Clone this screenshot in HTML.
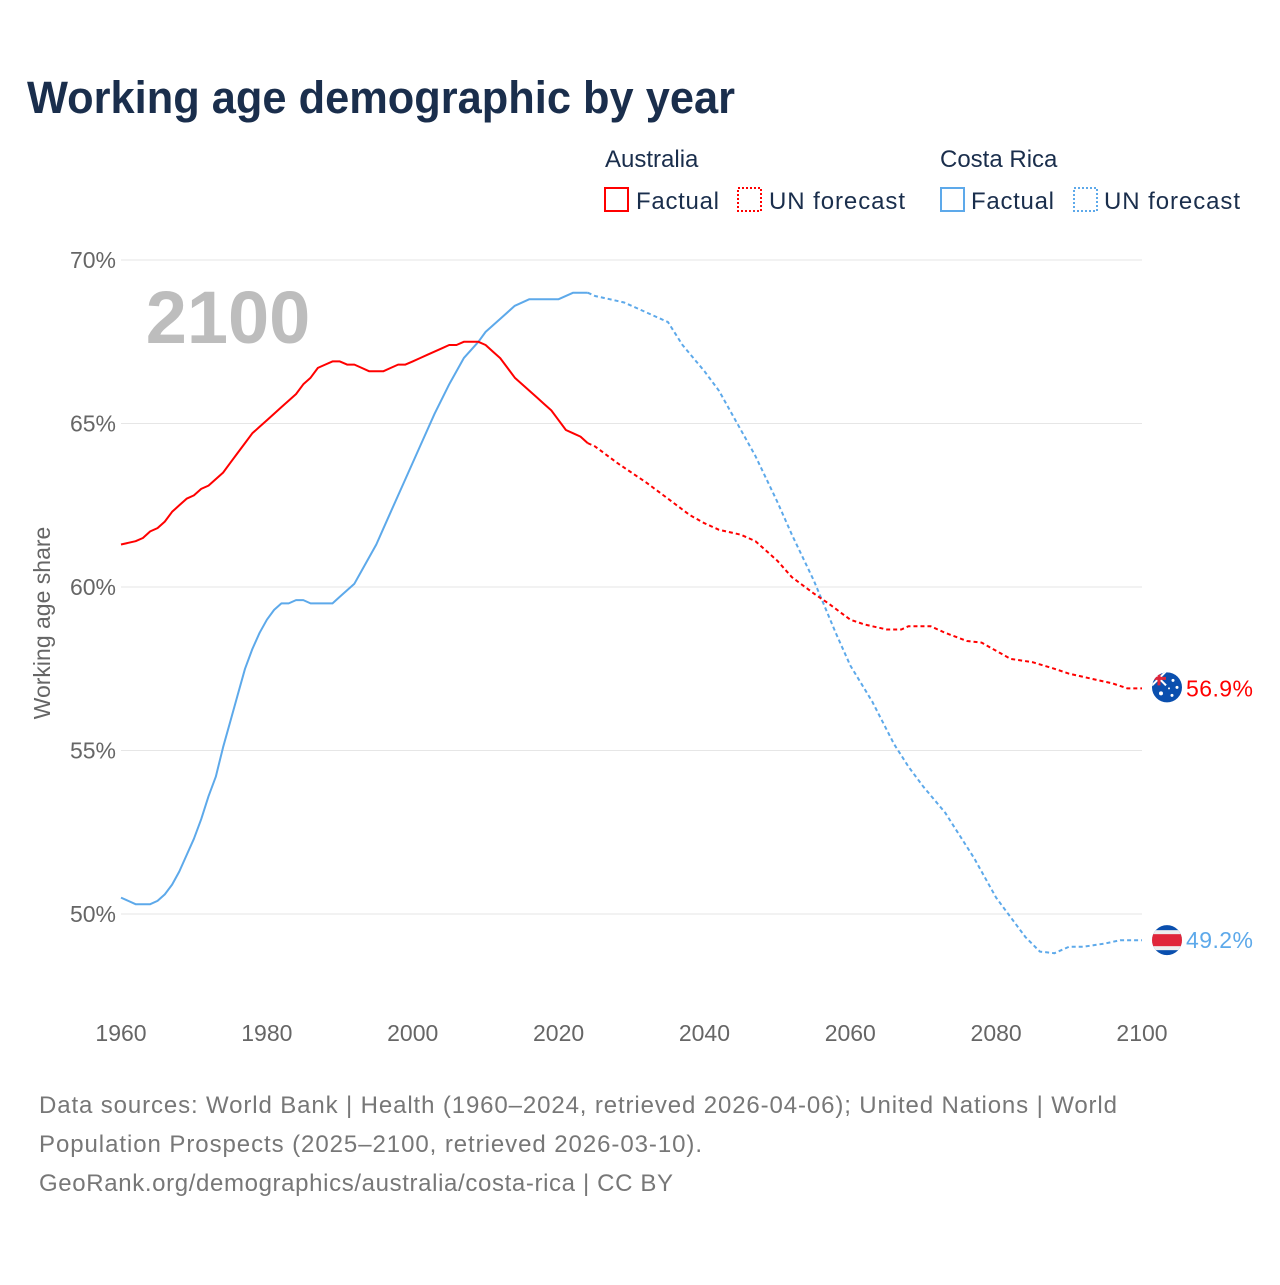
<!DOCTYPE html>
<html><head><meta charset="utf-8">
<style>
body{margin:0;background:#fff;font-family:"Liberation Sans",sans-serif;}
svg text{font-family:"Liberation Sans",sans-serif;}
</style></head>
<body>
<svg id="chart" width="1280" height="1280" viewBox="0 0 1280 1280">
<rect width="1280" height="1280" fill="#fff"/>
<text x="27" y="113" font-size="45" font-weight="bold" fill="#1a2e4c" textLength="708" lengthAdjust="spacingAndGlyphs">Working age demographic by year</text>
<g>
<text x="605" y="167" font-size="24" fill="#1a2e4c">Australia</text>
<text x="940" y="167" font-size="24" fill="#1a2e4c">Costa Rica</text>
<g><rect x="605" y="188" width="23" height="23" fill="none" stroke="#f00" stroke-width="2"/><text x="636" y="209" font-size="24" fill="#1a2e4c" textLength="83">Factual</text></g>
<g><rect x="738" y="188" width="23" height="23" fill="none" stroke="#f00" stroke-width="2" stroke-dasharray="2,2"/><text x="769" y="209" font-size="24" fill="#1a2e4c" textLength="136">UN forecast</text></g>
<g><rect x="941" y="188" width="23" height="23" fill="none" stroke="#5da9ea" stroke-width="2"/><text x="971" y="209" font-size="24" fill="#1a2e4c" textLength="83">Factual</text></g>
<g><rect x="1074" y="188" width="23" height="23" fill="none" stroke="#5da9ea" stroke-width="2" stroke-dasharray="2,2"/><text x="1104" y="209" font-size="24" fill="#1a2e4c" textLength="136">UN forecast</text></g>
</g>
<g id="grid"></g>
<text x="228" y="343" font-size="74" font-weight="bold" fill="#bdbdbd" text-anchor="middle">2100</text>
<text transform="translate(50,623) rotate(-90)" font-size="23" fill="#666" text-anchor="middle">Working age share</text>
<g id="series"></g>
<g id="endlabels"></g>
<g font-size="24" fill="#777">
<text x="39" y="1113" fill="#777" textLength="1078">Data sources: World Bank | Health (1960–2024, retrieved 2026-04-06); United Nations | World</text>
<text x="39" y="1152" fill="#777" textLength="663">Population Prospects (2025–2100, retrieved 2026-03-10).</text>
<text x="39" y="1191" fill="#777" textLength="634">GeoRank.org/demographics/australia/costa-rica | CC BY</text>
</g>
</svg>
<script>
const yTicks=[50,55,60,65,70];
const xTicks=[1960,1980,2000,2020,2040,2060,2080,2100];
const auYears=[1960,1962,1963,1964,1965,1966,1967,1968,1969,1970,1971,1972,1973,1974,1975,1976,1977,1978,1979,1980,1981,1982,1983,1984,1985,1986,1987,1988,1989,1990,1991,1992,1993,1994,1995,1996,1997,1998,1999,2000,2001,2002,2003,2004,2005,2006,2007,2008,2009,2010,2011,2012,2013,2014,2015,2016,2017,2018,2019,2020,2021,2022,2023,2024];
const auValues=[61.3,61.4,61.5,61.7,61.8,62.0,62.3,62.5,62.7,62.8,63.0,63.1,63.3,63.5,63.8,64.1,64.4,64.7,64.9,65.1,65.3,65.5,65.7,65.9,66.2,66.4,66.7,66.8,66.9,66.9,66.8,66.8,66.7,66.6,66.6,66.6,66.7,66.8,66.8,66.9,67.0,67.1,67.2,67.3,67.4,67.4,67.5,67.5,67.5,67.4,67.2,67.0,66.7,66.4,66.2,66.0,65.8,65.6,65.4,65.1,64.8,64.7,64.6,64.4];
const auFcYears=[2024,2025,2028,2030,2032,2035,2038,2040,2042,2045,2047,2050,2052,2055,2057,2060,2062,2065,2067,2068,2071,2073,2076,2078,2080,2082,2085,2088,2090,2093,2096,2098,2100];
const auFcValues=[64.4,64.3,63.8,63.5,63.2,62.7,62.2,61.95,61.75,61.6,61.4,60.8,60.3,59.8,59.5,59.0,58.85,58.7,58.7,58.8,58.8,58.6,58.35,58.3,58.05,57.8,57.7,57.5,57.35,57.2,57.05,56.9,56.9];
const crYears=[1960,1962,1964,1965,1966,1967,1968,1969,1970,1971,1972,1973,1974,1975,1976,1977,1978,1979,1980,1981,1982,1983,1984,1985,1986,1987,1988,1989,1990,1992,1993,1995,1997,1999,2001,2003,2005,2007,2009,2010,2012,2014,2016,2018,2020,2022,2024];
const crValues=[50.5,50.3,50.3,50.4,50.6,50.9,51.3,51.8,52.3,52.9,53.6,54.2,55.1,55.9,56.7,57.5,58.1,58.6,59.0,59.3,59.5,59.5,59.6,59.6,59.5,59.5,59.5,59.5,59.7,60.1,60.5,61.3,62.3,63.3,64.3,65.3,66.2,67.0,67.5,67.8,68.2,68.6,68.8,68.8,68.8,69.0,69.0];
const crFcYears=[2024,2025,2027,2029,2031,2033,2035,2037,2040,2042,2045,2047,2050,2052,2055,2058,2060,2063,2066,2068,2070,2073,2075,2077,2080,2082,2084,2086,2088,2090,2092,2095,2097,2100];
const crFcValues=[69.0,68.9,68.8,68.7,68.5,68.3,68.1,67.4,66.6,66.0,64.8,64.0,62.6,61.6,60.2,58.6,57.6,56.5,55.2,54.5,53.9,53.1,52.4,51.7,50.5,49.9,49.3,48.85,48.8,49.0,49.0,49.1,49.2,49.2];
const NS='http://www.w3.org/2000/svg';
function X(yr){return 121+(yr-1960)*(1142-121)/140;}
function Y(v){return 914-(v-50)*(914-260)/20;}
function mk(tag,attrs,parent){const e=document.createElementNS(NS,tag);for(const k in attrs)e.setAttribute(k,attrs[k]);parent.appendChild(e);return e;}
const grid=document.getElementById('grid');
yTicks.forEach(t=>{
  const l=mk('line',{x1:121,x2:1142,y1:Y(t),y2:Y(t),stroke:'#e6e6e6','stroke-width':1},grid);
  
  
  const tx=mk('text',{x:116,y:Y(t)+8,'font-size':23,fill:'#666','text-anchor':'end'},grid);
  tx.textContent=t+'%';
  
  
});
xTicks.forEach(t=>{
  const tx=mk('text',{x:X(t),y:1041,'font-size':23,fill:'#666','text-anchor':'middle'},grid);
  tx.textContent=t;
  
  
});
const ser=document.getElementById('series');
function line(ys,vs,color,dash,name){
  const p=mk('polyline',{points:ys.map((y,i)=>X(y).toFixed(1)+','+Y(vs[i]).toFixed(1)).join(' '),fill:'none',stroke:color,'stroke-width':2,'stroke-linejoin':'round'},ser);
  if(dash)p.setAttribute('stroke-dasharray','4,3');
  
  
}
line(crYears,crValues,'#5da9ea',false,'costa-rica-factual-line');
line(crFcYears,crFcValues,'#5da9ea',true,'costa-rica-forecast-line');
line(auYears,auValues,'#f00',false,'australia-factual-line');
line(auFcYears,auFcValues,'#f00',true,'australia-forecast-line');
const el=document.getElementById('endlabels');
const auLast=auFcValues[auFcValues.length-1], crLast=crFcValues[crFcValues.length-1];
let ay=Y(auLast)-1;
const gA=mk('g',{},el);


const ap=mk('clipPath',{id:'auc'},gA);mk('circle',{cx:1167,cy:ay,r:15},ap);
const ag=mk('g',{'clip-path':'url(#auc)'},gA);
mk('rect',{x:1150,y:ay-16,width:34,height:32,fill:'#0a4fae'},ag);
mk('path',{d:`M1152 ${ay-16}L1166 ${ay-2}M1166 ${ay-16}L1152 ${ay-2}`,stroke:'#fff','stroke-width':2},ag);
mk('path',{d:`M1159 ${ay-16}V${ay-2}M1150 ${ay-9}H1166`,stroke:'#e0263a','stroke-width':3},ag);
[[1161,ay+6,2],[1173,ay-7,1.5],[1177,ay,1.5],[1172,ay+8,1.5],[1169,ay+1,1]].forEach(s=>mk('circle',{cx:s[0],cy:s[1],r:s[2],fill:'#fff'},ag));
const ta=mk('text',{x:1186,y:Y(auLast)+8,'font-size':23,fill:'#f00',textLength:67},el);
ta.textContent=auLast.toFixed(1)+'%';


let cy=Y(crLast);
const gC=mk('g',{},el);


const cp=mk('clipPath',{id:'crc'},gC);mk('circle',{cx:1167,cy:cy,r:15},cp);
const gg=mk('g',{'clip-path':'url(#crc)'},gC);
mk('rect',{x:1150,y:cy-16,width:34,height:32,fill:'#0a4fae'},gg);
mk('rect',{x:1150,y:cy-10,width:34,height:20,fill:'#eee'},gg);
mk('rect',{x:1150,y:cy-6,width:34,height:12,fill:'#e0263a'},gg);
const tc=mk('text',{x:1186,y:cy+8,'font-size':23,fill:'#5da9ea',textLength:67},el);
tc.textContent=crLast.toFixed(1)+'%';


</script>
</body></html>
